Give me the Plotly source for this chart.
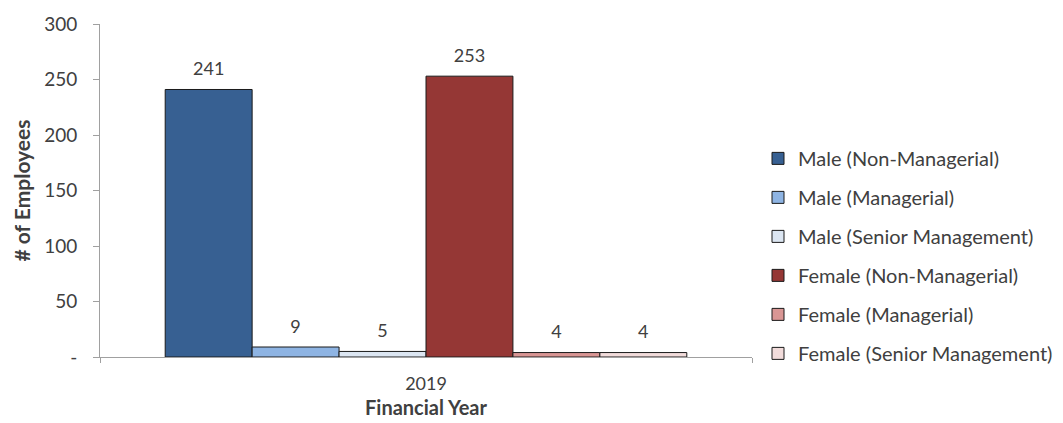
import plotly.graph_objects as go

years = ["2019"]
series_names = [
    "Male (Non-Managerial)",
    "Male (Managerial)",
    "Male (Senior Management)",
    "Female (Non-Managerial)",
    "Female (Managerial)",
    "Female (Senior Management)",
]
series_values = [241, 9, 5, 253, 4, 4]
series_colors = ["#376092", "#8EB4E3", "#DCE6F2", "#953735", "#D99694", "#F2DCDB"]

y_tick_vals = [0, 50, 100, 150, 200, 250, 300]
y_tick_text = ["-", "50", "100", "150", "200", "250", "300"]

FONT = "Lato, Open Sans, sans-serif"
TEXT = "#404040"
AXIS = "#a0a0a0"

fig = go.Figure()
for i, (name, val, col) in enumerate(zip(series_names, series_values, series_colors)):
    fig.add_trace(go.Bar(
        x=years, y=[val], name=name,
        marker=dict(color=col, line=dict(color="#1a1a1a", width=1)),
        offsetgroup=f"g{i}", legendgroup=f"g{i}",
        hoverinfo="name+y",
    ))

# value labels sit above each bar, grouped the same way as the bars
for i, val in enumerate(series_values):
    fig.add_trace(go.Scatter(
        x=years, y=[val], mode="markers+text",
        text=[str(val)], textposition="top center",
        textfont=dict(size=18, color=TEXT, family=FONT),
        marker=dict(size=14, opacity=0),
        offsetgroup=f"g{i}", showlegend=False, hoverinfo="skip",
        cliponaxis=False,
    ))

fig.update_layout(
    width=1063, height=423,
    margin=dict(l=100, r=311, t=24, b=66, autoexpand=False),
    paper_bgcolor="white", plot_bgcolor="white",
    barmode="group", bargap=0.2, bargroupgap=0,
    scattermode="group", scattergap=0.2,
    font=dict(family=FONT, color=TEXT),
    showlegend=True,
    legend=dict(
        x=(758 - 100) / 652, y=0.655, xanchor="left", yanchor="top",
        font=dict(size=20, color=TEXT, family=FONT),
        tracegroupgap=10, itemwidth=30,
    ),
    xaxis=dict(
        title=dict(text="<b>Financial Year</b>", font=dict(size=20, color=TEXT), standoff=8),
        showline=True, linecolor=AXIS, linewidth=1,
        ticks="outside", tickson="boundaries", ticklen=5, tickcolor=AXIS,
        ticklabelstandoff=10,
        tickfont=dict(size=18, color=TEXT),
        showgrid=False,
    ),
    yaxis=dict(
        title=dict(text="<b># of Employees</b>", font=dict(size=21, color=TEXT), standoff=7),
        range=[0, 300], tickvals=y_tick_vals, ticktext=y_tick_text,
        showline=True, linecolor=AXIS, linewidth=1,
        ticks="outside", ticklen=6, tickcolor=AXIS,
        ticklabelstandoff=12,
        tickfont=dict(size=19, color=TEXT),
        showgrid=False, zeroline=False,
    ),
)

fig.write_html("out.html")
